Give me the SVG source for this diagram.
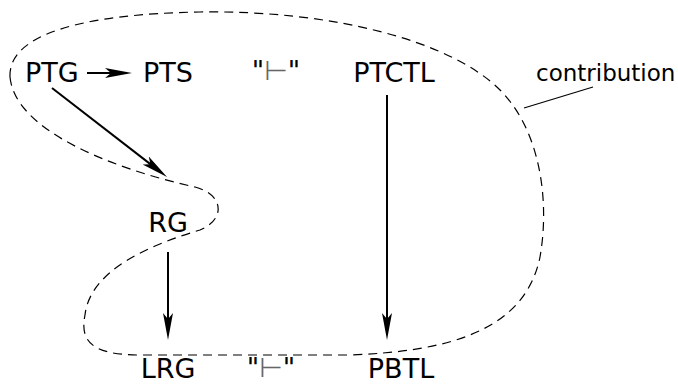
<svg xmlns="http://www.w3.org/2000/svg" width="678" height="384" viewBox="0 0 678 384">
<style>
text{font-family:"DejaVu Sans","Liberation Sans",sans-serif;fill:#000}
.lbl{font-size:27px}
.small{font-size:23px}
.turn{fill:#666}
.arrow{stroke:#000;stroke-width:2;fill:none}
.region{stroke:#000;stroke-width:1.2;fill:none;stroke-dasharray:9 6}
</style>
<defs>
<marker id="head" markerUnits="userSpaceOnUse" markerWidth="30" markerHeight="12" viewBox="0 -6 30 12" refX="10" refY="0" orient="auto">
<path d="M27,0 L0,-5 L6,0 L0,5 Z" fill="#000"/>
</marker>
</defs>
<path class="region" d="M10,77 C8,35 80,14 200,12 C330,10 450,40 500,90 C540,130 550,200 540,257 C525,330 450,352 347,355 L140,355 C90,355 80,340 85,315 C90,270 150,245 200,230 C225,220 225,195 195,187 C110,168 15,130 10,77 Z"/>
<g id="connectors">
<line class="arrow" x1="87" y1="73" x2="115" y2="73" marker-end="url(#head)"/>
<line class="arrow" x1="52" y1="88" x2="153.6" y2="166.6" marker-end="url(#head)"/>
<line class="arrow" x1="168" y1="252" x2="168" y2="323" marker-end="url(#head)"/>
<line class="arrow" x1="387" y1="95" x2="387" y2="323" marker-end="url(#head)"/>
<line x1="524" y1="108" x2="593" y2="87" stroke="#000" stroke-width="1.2"/>
</g>
<g id="PTG"><text class="lbl" x="25" y="82">PTG</text></g>
<g id="PTS"><text class="lbl" x="143" y="82">PTS</text></g>
<g id="turnstile-top"><text class="lbl" x="276" y="80" text-anchor="middle">"<tspan class="turn">⊢</tspan>"</text></g>
<g id="PTCTL"><text class="lbl" x="394" y="82" text-anchor="middle">PTCTL</text></g>
<g id="contribution"><text class="small" x="536" y="81">contribution</text></g>
<g id="RG"><text class="lbl" x="168" y="232" text-anchor="middle">RG</text></g>
<g id="LRG"><text class="lbl" x="168" y="378" text-anchor="middle">LRG</text></g>
<g id="turnstile-bottom"><text class="lbl" x="271" y="377" text-anchor="middle">"<tspan class="turn">⊢</tspan>"</text></g>
<g id="PBTL"><text class="lbl" x="401" y="378" text-anchor="middle">PBTL</text></g>
</svg>
